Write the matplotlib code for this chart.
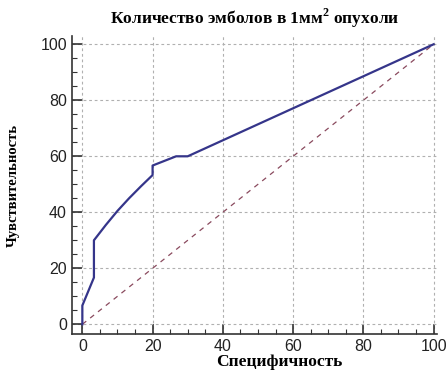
import matplotlib
matplotlib.use("Agg")
import matplotlib.pyplot as plt
from matplotlib.ticker import MultipleLocator

plt.rcParams["mathtext.fontset"] = "custom"
plt.rcParams["mathtext.bf"] = "Liberation Serif:bold"
plt.rcParams["mathtext.rm"] = "Liberation Serif:bold"

# ROC curve points (specificity, sensitivity)
spec = [0, 0, 3.3, 3.3, 6.7, 10, 13.3, 16.7, 20, 20, 26.7, 30, 100]
sens = [0, 6.7, 16.7, 30, 35.5, 40.5, 45, 49.3, 53.3, 56.7, 60, 60, 100]
diag = [0, 100]

title = r"Количество эмболов в 1мм$^{\mathbf{2}}$ опухоли"
xlabel = "Специфичность"
ylabel = "Чувствительность"

fig = plt.figure(figsize=(4.46, 3.7), dpi=100)
ax = fig.add_axes([0.161, 0.097, 0.819, 0.806])

ax.plot(diag, diag, color="#8a4a5e", lw=0.9, ls=(0, (4, 4)))
ax.plot(spec, sens, color="#35358a", lw=1.6)

ax.set_xlim(-3, 101)
ax.set_ylim(-3.5, 103)
ax.xaxis.set_major_locator(MultipleLocator(20))
ax.yaxis.set_major_locator(MultipleLocator(20))
ax.xaxis.set_minor_locator(MultipleLocator(5))
ax.yaxis.set_minor_locator(MultipleLocator(5))
ax.grid(True, which="major", color="#b0b0b0", ls=(0, (2.5, 2.5)), lw=0.8)

for s in ["top", "right"]:
    ax.spines[s].set_visible(False)
for s in ["left", "bottom"]:
    ax.spines[s].set_color("#333333")
    ax.spines[s].set_linewidth(1.2)

ax.tick_params(which="major", direction="in", length=7, width=1.2, color="#333333",
               labelsize=11.5, labelcolor="#222222")
ax.tick_params(which="minor", direction="in", length=3.5, width=0.8, color="#333333")
for lab in ax.get_xticklabels() + ax.get_yticklabels():
    lab.set_family("Liberation Sans")

ax.set_title(title, family="Liberation Serif", fontweight="bold", fontsize=12.5, pad=9)
ax.set_xlabel(xlabel, family="Liberation Serif", fontweight="bold", fontsize=12.5)
ax.set_ylabel(ylabel, family="Liberation Serif", fontweight="bold", fontsize=10.5)
ax.xaxis.set_label_coords(0.567, -0.066)
ax.yaxis.set_label_coords(-0.142, 0.5)

fig.savefig("out.png", dpi=100)
